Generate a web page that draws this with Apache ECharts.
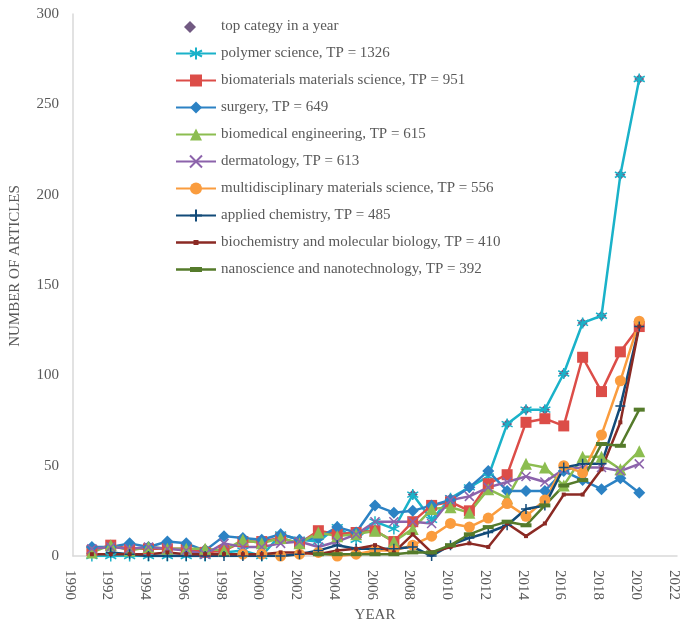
<!DOCTYPE html>
<html>
<head>
<meta charset="utf-8">
<script src="https://cdn.jsdelivr.net/npm/echarts@6/dist/echarts.min.js"></script>
<style>html,body{margin:0;padding:0;background:#fff;}#c{width:680px;height:622px;}</style>
</head>
<body>
<div id="c"></div>
<script>
const years = [1991,1992,1993,1994,1995,1996,1997,1998,1999,2000,2001,2002,2003,2004,2005,2006,2007,2008,2009,2010,2011,2012,2013,2014,2015,2016,2017,2018,2019,2020];
const topCategory = [5,6,7,5,8,7,4,11,10,9, 12,9,14,16,13,28,24,34,28,32, 38,47,73,81,81,101,129,133,211,264];
const polymerScience = [0,0,0,0,0,0,0,2,3,0, 12,9,8,16,9,19,15,34,20,32, 38,44,73,81,81,101,129,133,211,264];
const biomaterials = [3,6,4,4,4,4,2,3,8,8, 10,7,14,12,13,14,8,19,28,30, 25,40,45,74,76,72,110,91,113,127];
const surgery = [5,5,7,5,8,7,3,11,10,9, 12,9,10,16,13,28,24,25,28,31, 38,47,36,36,36,47,42,37,43,35];
const biomedical = [2,6,3,5,4,4,4,3,9,7, 10,7,13,11,12,14,8,15,26,27, 24,37,32,51,49,39,55,55,48,58];
const dermatology = [4,5,4,5,4,3,1,7,5,5, 7,8,5,8,12,19,19,19,18,31, 33,38,41,44,41,48,49,49,47,51];
const multidisciplinary = [null,null,null,null,null,null,null,null,1,1, 0,1,2,0,1,3,3,6,11,18, 16,21,29,22,31,50,46,67,97,130];
const appliedChemistry = [null,2,1,0,0,0,0,0,0,0, 0,1,3,6,4,4,4,5,0,6, 10,13,17,26,28,49,51,51,83,127];
const biochemistry = [1,1,1,1,2,1,1,1,1,1, 2,2,1,3,4,6,2,12,2,5, 7,5,18,11,18,34,34,48,74,127];
const nanoscience = [null,null,null,null,null,null,null,null,null,null, null,null,1,1,1,1,1,2,2,6, 12,16,19,17,28,39,42,62,61,81];

const seriesNames = [
  'top categy in a year',
  'polymer science, TP = 1326',
  'biomaterials materials science, TP = 951',
  'surgery, TP = 649',
  'biomedical engineering, TP = 615',
  'dermatology, TP = 613',
  'multidisciplinary materials science, TP = 556',
  'applied chemistry, TP = 485',
  'biochemistry and molecular biology, TP = 410',
  'nanoscience and nanotechnology, TP = 392'
];

const pts = arr => years.map((y, i) => [y, arr[i] === null ? '-' : arr[i]]);
const FONT = 'Liberation Serif';
const TXT = '#595959';

const STAR = 'path://M5,0 L5,10 M0.67,2.5 L9.33,7.5 M0.67,7.5 L9.33,2.5';
const XMARK = 'path://M0,0 L10,10 M0,10 L10,0';
const PLUS = 'path://M5,0 L5,10 M0,5 L10,5';
const ICON_DIAMOND = 'path://M0,0 M40,15 M14,2 L20,8 L14,14 L8,8 Z M40,15';
const ICON_SMALLSQ = 'path://M0,6.6 L40,6.6 L40,9 L0,9 Z M17.5,5.3 L22.5,5.3 L22.5,10.3 L17.5,10.3 Z';
const ICON_DASH = 'path://M0,6.6 L40,6.6 L40,9 L0,9 Z M14,5.3 L26,5.3 L26,10.3 L14,10.3 Z';

function lineSeries(name, arr, color, symbol, size, strokeOnly) {
  return {
    name, type: 'line', data: pts(arr), connectNulls: false,
    symbol, symbolSize: size, showSymbol: true,
    lineStyle: { color, width: 2.5 },
    itemStyle: strokeOnly ? { color: color, borderColor: color, borderWidth: 1.5 } : { color: color, borderWidth: 0 },
    emphasis: { disabled: true }
  };
}

const chart = echarts.init(document.getElementById('c'), null, { renderer: 'canvas' });
chart.setOption({
  animation: false,
  backgroundColor: '#ffffff',
  grid: { left: 73, right: 3, top: 14, bottom: 66, containLabel: false, outerBoundsMode: 'none' },
  legend: {
    orient: 'vertical', left: 170, top: 14,
    itemWidth: 40, itemHeight: 15, itemGap: 12,
    symbolKeepAspect: true,
    textStyle: { fontFamily: FONT, fontSize: 15, color: TXT },
    data: [
      { name: seriesNames[0], icon: ICON_DIAMOND },
      seriesNames[1], seriesNames[2], seriesNames[3], seriesNames[4],
      seriesNames[5], seriesNames[6], seriesNames[7],
      { name: seriesNames[8], icon: ICON_SMALLSQ },
      { name: seriesNames[9], icon: ICON_DASH }
    ]
  },
  xAxis: {
    type: 'value', min: 1990, max: 2022, interval: 2,
    name: 'YEAR', nameLocation: 'middle', nameGap: 44,
    nameTextStyle: { fontFamily: FONT, fontSize: 15, color: TXT },
    axisLine: { show: true, lineStyle: { color: '#d9d9d9', width: 1.5 } },
    axisTick: { show: false },
    splitLine: { show: false },
    axisLabel: { rotate: -90, margin: 14, verticalAlign: 'top', lineHeight: 7, fontFamily: FONT, fontSize: 15, color: TXT, formatter: v => String(v) }
  },
  yAxis: {
    type: 'value', min: 0, max: 300, interval: 50,
    name: 'NUMBER OF ARTICLES', nameLocation: 'middle', nameGap: 50,
    nameTextStyle: { fontFamily: FONT, fontSize: 15, color: TXT, padding: [0, 0, 0, 38] },
    axisLine: { show: true, lineStyle: { color: '#d9d9d9', width: 1.5 } },
    axisTick: { show: false },
    splitLine: { show: false },
    axisLabel: { margin: 14, fontFamily: FONT, fontSize: 15, color: TXT }
  },
  series: [
    { name: seriesNames[0], type: 'scatter', data: pts(topCategory), symbol: 'diamond', symbolSize: 10,
      itemStyle: { color: '#4d3163' }, emphasis: { disabled: true } },
    lineSeries(seriesNames[1], polymerScience, '#1ab2c9', STAR, 11, true),
    lineSeries(seriesNames[2], biomaterials, '#dc4d48', 'rect', 11, false),
    lineSeries(seriesNames[3], surgery, '#2c82c4', 'diamond', 12, false),
    lineSeries(seriesNames[4], biomedical, '#8cbd50', 'triangle', 12, false),
    lineSeries(seriesNames[5], dermatology, '#8c63ab', XMARK, 9, true),
    lineSeries(seriesNames[6], multidisciplinary, '#fa9c3e', 'circle', 11, false),
    lineSeries(seriesNames[7], appliedChemistry, '#124b79', PLUS, 10, true),
    lineSeries(seriesNames[8], biochemistry, '#8b2a24', 'rect', 4, false),
    lineSeries(seriesNames[9], nanoscience, '#557b2b', 'rect', [11, 4], false)
  ]
});
</script>
</body>
</html>
